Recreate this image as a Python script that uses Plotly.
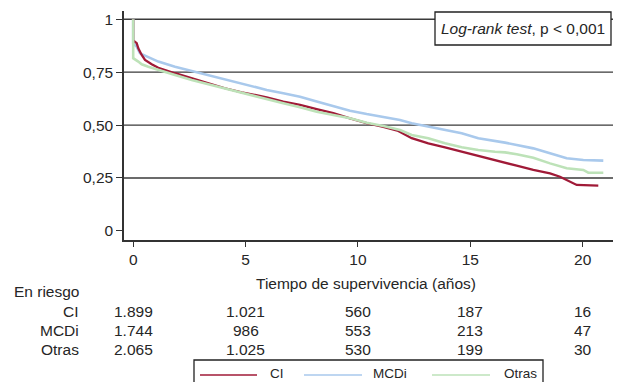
import plotly.graph_objects as go

# ---------------- data ----------------
groups = ["CI", "MCDi", "Otras"]
colors = {"CI": "#a01a37", "MCDi": "#a9c9ec", "Otras": "#bde2b8"}

ci_t = [0, 0, 0.156, 0.227, 0.378, 0.525, 0.823, 1.117, 1.86, 2.603, 3.341, 4.085, 4.828, 5.344,
        5.94, 6.679, 7.422, 8.165, 8.903, 9.646, 10.389, 11.128, 11.795, 12.391, 13.13, 13.873,
        14.616, 15.355, 16.098, 16.543, 17.064, 17.802, 18.545, 18.99, 19.435, 19.733, 20.694]
ci_s = [1.0, 0.90, 0.887, 0.863, 0.831, 0.808, 0.787, 0.771, 0.745, 0.721, 0.698, 0.674, 0.655, 0.645,
        0.631, 0.611, 0.595, 0.575, 0.556, 0.532, 0.509, 0.492, 0.472, 0.438, 0.414, 0.395,
        0.374, 0.354, 0.335, 0.322, 0.308, 0.288, 0.272, 0.256, 0.233, 0.217, 0.214]

mcdi_t = [0, 0, 0.156, 0.303, 0.525, 0.823, 1.117, 1.86, 2.603, 3.341, 4.085, 4.828, 5.344, 5.94,
          6.679, 7.422, 8.165, 8.903, 9.646, 10.389, 11.128, 11.871, 12.391, 13.13, 13.873, 14.616,
          15.355, 16.098, 16.543, 17.064, 17.802, 18.545, 19.288, 20.027, 20.917]
mcdi_s = [1.0, 0.885, 0.871, 0.839, 0.828, 0.812, 0.800, 0.776, 0.756, 0.737, 0.718, 0.698, 0.685, 0.666,
          0.650, 0.634, 0.611, 0.590, 0.568, 0.552, 0.537, 0.524, 0.509, 0.492, 0.477, 0.461,
          0.438, 0.426, 0.417, 0.406, 0.390, 0.367, 0.343, 0.335, 0.332]

otras_t = [0, 0, 0.227, 0.378, 0.672, 1.117, 1.86, 2.603, 3.341, 4.085, 4.828, 5.344, 5.94, 6.679,
           7.422, 8.165, 8.903, 9.646, 10.389, 11.128, 11.871, 12.391, 13.13, 13.873, 14.616,
           15.355, 16.098, 16.543, 17.064, 17.802, 18.545, 19.288, 20.027, 20.249, 20.917]
otras_s = [1.0, 0.816, 0.800, 0.787, 0.776, 0.760, 0.737, 0.713, 0.693, 0.671, 0.650, 0.638, 0.622, 0.603,
           0.584, 0.563, 0.548, 0.532, 0.511, 0.496, 0.477, 0.453, 0.438, 0.414, 0.395,
           0.382, 0.374, 0.371, 0.362, 0.346, 0.319, 0.296, 0.288, 0.275, 0.275]

x_ticks = [0, 5, 10, 15, 20]
y_ticks = [0, 0.25, 0.5, 0.75, 1]
y_tick_labels = ["0", "0,25", "0,50", "0,75", "1"]

risk_ci = [1899, 1021, 560, 187, 16]
risk_mcdi = [1744, 986, 553, 213, 47]
risk_otras = [2065, 1025, 530, 199, 30]

x_title = "Tiempo de supervivencia (años)"
risk_title = "En riesgo"
test_text = "<i>Log-rank test</i>, p &lt; 0,001"

# ---------------- figure ----------------
FONT = "Liberation Sans, Arial, sans-serif"
FS = 15.5
FS_LEG = 13.5
TXT = "#262626"
W, H = 620, 382
L, R, T, B = 124, 7, 11, 142
PW, PH = W - L - R, H - T - B


def px_x(p):
    return (p - L) / PW


def px_y(p):
    return (H - B - p) / PH


def fmt(n):
    return f"{n:,}".replace(",", ".")


series = {"CI": (ci_t, ci_s), "MCDi": (mcdi_t, mcdi_s), "Otras": (otras_t, otras_s)}
fig = go.Figure()
for g, w in [("MCDi", 2.6), ("CI", 2.3), ("Otras", 2.6)]:
    t, s = series[g]
    fig.add_trace(go.Scatter(x=t, y=s, mode="lines", name=g,
                             line=dict(color=colors[g], width=w), showlegend=False,
                             hoverinfo="skip"))

shapes = []
for v in y_ticks:
    if v == 0:
        continue
    shapes.append(dict(type="line", xref="paper", yref="y", x0=0, x1=1, y0=v, y1=v,
                       line=dict(color="#3a3a3a", width=1.3), layer="below"))

# log-rank box
shapes.append(dict(type="rect", xref="paper", yref="paper",
                   x0=px_x(435), x1=px_x(611), y0=px_y(45), y1=px_y(12),
                   fillcolor="white", line=dict(color="#222", width=1.3), layer="above"))

annotations = [
    dict(text=test_text, xref="paper", yref="paper", x=px_x(523), y=px_y(28.5),
         showarrow=False, xanchor="center", yanchor="middle", font=dict(size=FS, color=TXT, family=FONT)),
    dict(text=x_title, xref="paper", yref="paper", x=px_x(366), y=px_y(283),
         showarrow=False, xanchor="center", yanchor="middle", font=dict(size=FS, color=TXT, family=FONT)),
    dict(text=risk_title, xref="paper", yref="paper", x=px_x(81), y=px_y(291),
         showarrow=False, xanchor="right", yanchor="middle", font=dict(size=FS, color=TXT, family=FONT)),
]

row_y = [311, 330.5, 349.5]
for g, vals, ry in zip(groups, [risk_ci, risk_mcdi, risk_otras], row_y):
    annotations.append(dict(text=g, xref="paper", yref="paper", x=px_x(81), y=px_y(ry),
                            showarrow=False, xanchor="right", yanchor="middle",
                            font=dict(size=FS, color=TXT, family=FONT)))
    for xv, n in zip(x_ticks, vals):
        annotations.append(dict(text=fmt(n), xref="x", yref="paper", x=xv, y=px_y(ry),
                                showarrow=False, xanchor="center", yanchor="middle",
                                font=dict(size=FS, color=TXT, family=FONT)))

# bottom legend box
shapes.append(dict(type="rect", xref="paper", yref="paper",
                   x0=px_x(194), x1=px_x(543), y0=px_y(392), y1=px_y(360),
                   fillcolor="rgba(0,0,0,0)", line=dict(color="#222", width=1.3)))
leg_pos = [(200, 257, 276.5), (304, 362, 390), (432, 490, 520)]
for g, (a, b, c) in zip(groups, leg_pos):
    shapes.append(dict(type="line", xref="paper", yref="paper", x0=px_x(a), x1=px_x(b),
                       y0=px_y(375), y1=px_y(375), line=dict(color=colors[g], width=1.5)))
    annotations.append(dict(text=g, xref="paper", yref="paper", x=px_x(c), y=px_y(373.5),
                            showarrow=False, xanchor="center", yanchor="middle",
                            font=dict(size=FS_LEG, color=TXT, family=FONT)))

fig.update_layout(
    width=W, height=H, margin=dict(l=L, r=R, t=T, b=B, pad=0),
    paper_bgcolor="white", plot_bgcolor="white",
    font=dict(family=FONT, size=FS, color=TXT),
    shapes=shapes, annotations=annotations, showlegend=False,
    xaxis=dict(range=[-0.409, 21.348], tickvals=x_ticks, ticktext=[str(v) for v in x_ticks],
               ticks="outside", ticklen=5, tickwidth=1.3, tickcolor="#333",
               showline=True, linecolor="#333", linewidth=1.5, showgrid=False, zeroline=False,
               tickfont=dict(size=FS, color=TXT, family=FONT)),
    yaxis=dict(range=[-0.043, 1.039], tickvals=y_ticks, ticktext=y_tick_labels,
               ticks="outside", ticklen=6, tickwidth=1.3, tickcolor="#333",
               showline=True, linecolor="#333", linewidth=1.5, showgrid=False, zeroline=False,
               tickfont=dict(size=FS, color=TXT, family=FONT)),
)

fig.write_html("out.html")
